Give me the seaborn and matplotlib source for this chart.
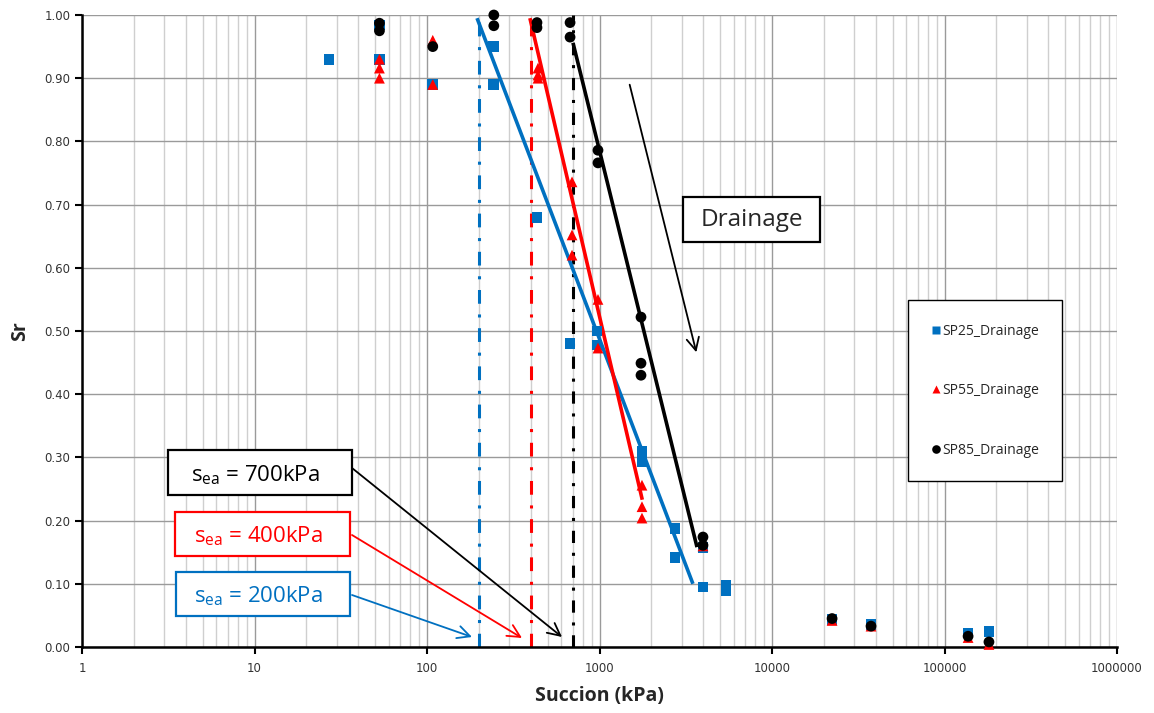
import numpy as np
import pandas as pd
import matplotlib
matplotlib.use("Agg")
import matplotlib.pyplot as plt
import seaborn as sns
from matplotlib.patches import Rectangle
from matplotlib.ticker import LogLocator, FixedLocator, FuncFormatter

# ---------------- data ----------------
sp25_x = [27, 53, 53, 108, 244, 244, 434, 675, 967, 967, 1763, 1763, 2740, 2740,
          3980, 3980, 5410, 5410, 22300, 37500, 137000, 181000]
sp25_y = [0.93, 0.984, 0.93, 0.89, 0.95, 0.89, 0.68, 0.48, 0.50, 0.478, 0.309, 0.293,
          0.187, 0.142, 0.157, 0.095, 0.097, 0.089, 0.044, 0.036, 0.022, 0.025]

sp55_x = [53, 53, 53, 108, 108, 440, 440, 440, 693, 693, 693, 980, 980,
          1763, 1763, 1763, 3980, 22300, 37500, 137000, 181000]
sp55_y = [0.93, 0.916, 0.90, 0.96, 0.89, 0.916, 0.905, 0.90, 0.736, 0.652, 0.62,
          0.55, 0.473, 0.256, 0.222, 0.204, 0.16, 0.042, 0.033, 0.015, 0.004]

sp85_x = [53, 53, 108, 244, 244, 434, 434, 675, 675, 980, 980, 1740, 1740, 1740,
          3980, 3980, 22300, 37500, 137000, 181000]
sp85_y = [0.987, 0.975, 0.95, 1.00, 0.983, 0.988, 0.98, 0.988, 0.965, 0.786, 0.766,
          0.522, 0.449, 0.43, 0.174, 0.161, 0.045, 0.033, 0.017, 0.008]

series_names = ["SP25_Drainage", "SP55_Drainage", "SP85_Drainage"]

# fitted drainage lines (start/end)
fit25_x = [195, 3480]
fit25_y = [0.995, 0.10]
fit55_x = [395, 1770]
fit55_y = [0.995, 0.233]
fit85_x = [702, 3675]
fit85_y = [0.956, 0.158]

# air-entry suctions
sea_values = [200, 400, 700]
sea_labels = ["200kPa", "400kPa", "700kPa"]

x_ticks = [1, 10, 100, 1000, 10000, 100000, 1000000]
y_ticks = [0.0, 0.1, 0.2, 0.3, 0.4, 0.5, 0.6, 0.7, 0.8, 0.9, 1.0]

BLUE = "#0070C0"
RED = "#FF0000"
BLACK = "#000000"

# ---------------- style ----------------
sns.set_style("white")
plt.rcParams["font.family"] = ["DejaVu Sans"]

fig = plt.figure(figsize=(11.54, 7.13), dpi=100)
ax = fig.add_axes([82 / 1154, 1 - 647 / 713, 1035 / 1154, 632 / 713])

df = pd.concat([
    pd.DataFrame({"x": sp25_x, "y": sp25_y, "s": series_names[0]}),
    pd.DataFrame({"x": sp55_x, "y": sp55_y, "s": series_names[1]}),
    pd.DataFrame({"x": sp85_x, "y": sp85_y, "s": series_names[2]}),
])

palette = {series_names[0]: BLUE, series_names[1]: RED, series_names[2]: BLACK}
markers = {series_names[0]: "s", series_names[1]: "^", series_names[2]: "o"}

# vertical air-entry lines
sea_colors = [BLUE, RED, BLACK]
sea_dashes = [(4.5, 3.5, 1, 3.5), (4.5, 3.5, 1, 3.5), (4.0, 3.2, 1, 3.2)]
for v, c, d in zip(sea_values, sea_colors, sea_dashes):
    ax.axvline(v, color=c, lw=2.2, dashes=d, zorder=2)

# fitted lines
for fx, fy, c in zip([fit25_x, fit55_x, fit85_x], [fit25_y, fit55_y, fit85_y],
                     [BLUE, RED, BLACK]):
    ax.plot(fx, fy, color=c, lw=2.6, zorder=3, solid_capstyle="butt")

sns.scatterplot(data=df, x="x", y="y", hue="s", style="s", palette=palette,
                markers=markers, s=60, edgecolor="none", ax=ax, zorder=4,
                clip_on=False, legend=True)

ax.set_xscale("log")
ax.set_xlim(1, 1e6)
ax.set_ylim(0, 1.0)

ax.xaxis.set_major_locator(FixedLocator(x_ticks))
ax.xaxis.set_major_formatter(FuncFormatter(lambda v, p: f"{int(round(v))}"))
ax.xaxis.set_minor_locator(LogLocator(base=10, subs=np.arange(2, 10)))
ax.xaxis.set_minor_formatter(FuncFormatter(lambda v, p: ""))
ax.yaxis.set_major_locator(FixedLocator(y_ticks))
ax.yaxis.set_major_formatter(FuncFormatter(lambda v, p: f"{v:.2f}"))

ax.grid(True, which="major", axis="both", color="#9a9a9a", lw=1.0, zorder=0)
ax.grid(True, which="minor", axis="x", color="#cfcfcf", lw=1.0, zorder=0)
ax.set_axisbelow(True)

for side in ["top", "right"]:
    ax.spines[side].set_visible(False)
for side in ["left", "bottom"]:
    ax.spines[side].set_color("black")
    ax.spines[side].set_linewidth(1.8)

ax.tick_params(axis="both", which="major", direction="out", length=5, width=1.5,
               labelsize=8.5, labelcolor="#333333", color="black", left=True, bottom=True)
ax.tick_params(axis="x", which="minor", length=0)
ax.tick_params(axis="x", pad=6)

ax.set_xlabel("Succion (kPa)", fontsize=14, fontweight="bold", family="Open Sans", labelpad=8)
ax.set_ylabel("Sr", fontsize=14, fontweight="bold", family="Open Sans", labelpad=10)

# legend
handles, labels = ax.get_legend_handles_labels()
leg = ax.legend(handles, labels, loc="upper left", bbox_to_anchor=(0.798, 0.549),
                frameon=True, fancybox=False, edgecolor="black", framealpha=1,
                prop={"family": "Open Sans", "size": 10}, labelspacing=3.2,
                borderpad=1.7, handlelength=0.6, handletextpad=0.15,
                borderaxespad=0, markerscale=0.8)
leg.get_frame().set_linewidth(1.0)
leg.set_zorder(6)
# widen frame to match the reference box width
fig.canvas.draw()
fr = leg.get_frame()
fr.set_width(fr.get_width() + 14)
fr.set_x(fr.get_x())

def px2ax(px, py):
    return ((px - 82) / 1035, (647 - py) / 632)

# "Drainage" box + arrow
x0, y1 = px2ax(683, 197)
x1, y0 = px2ax(820, 242)
ax.add_patch(Rectangle((x0, y0), x1 - x0, y1 - y0, transform=ax.transAxes,
                       facecolor="white", edgecolor="black", lw=1.6, zorder=6))
ax.text((x0 + x1) / 2, (y0 + y1) / 2, "Drainage", transform=ax.transAxes,
        ha="center", va="center", fontsize=17.5, family="Open Sans", zorder=7)
ax.annotate("", xy=px2ax(697, 355), xytext=px2ax(629, 82),
            xycoords="axes fraction", textcoords="axes fraction",
            arrowprops=dict(arrowstyle="->,head_length=0.9,head_width=0.45",
                            color="black", lw=1.3), zorder=6)

# s_ea boxes
box_specs = [
    (sea_labels[2], BLACK, (168, 450, 352, 495), (352, 468), (562, 637)),
    (sea_labels[1], RED, (175, 512, 350, 556), (352, 535), (522, 638)),
    (sea_labels[0], BLUE, (176, 572, 350, 616), (352, 595), (472, 637)),
]
for lab, col, (bx0, by0, bx1, by1), start, tip in box_specs:
    ax0, ay1 = px2ax(bx0, by0)
    ax1, ay0 = px2ax(bx1, by1)
    ax.add_patch(Rectangle((ax0, ay0), ax1 - ax0, ay1 - ay0, transform=ax.transAxes,
                           facecolor="white", edgecolor=col, lw=1.6, zorder=6))
    ax.text((ax0 + ax1) / 2 - 0.004, (ay0 + ay1) / 2 - 0.004,
            r"$\mathregular{s_{ea}}$ = " + lab, transform=ax.transAxes,
            ha="center", va="center", fontsize=16, family="Open Sans", color=col, zorder=7)
    ax.annotate("", xy=px2ax(*tip), xytext=px2ax(*start),
                xycoords="axes fraction", textcoords="axes fraction",
                arrowprops=dict(arrowstyle="->,head_length=0.9,head_width=0.45",
                                color=col, lw=1.3, shrinkA=0, shrinkB=0), zorder=6)

fig.savefig("out.png", dpi=100)
